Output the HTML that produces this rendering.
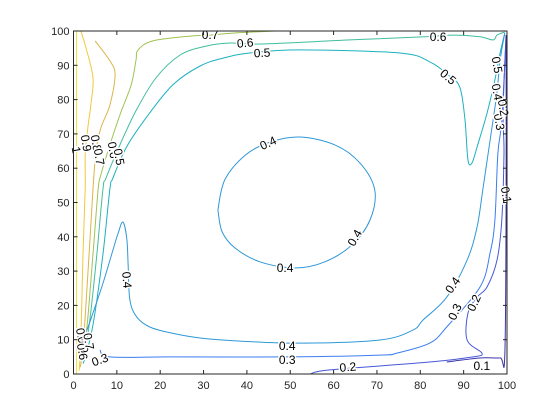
<!DOCTYPE html>
<html><head><meta charset="utf-8"><style>
body{margin:0;background:#fff}
svg{display:block;font-family:"Liberation Sans",sans-serif}
</style></head><body>
<svg id="chart" width="560" height="420" viewBox="0 0 560 420">
<rect x="0" y="0" width="560" height="420" fill="#fff"/>
<g id="lines"></g>
<g id="labels"></g>
<g id="axes"></g>
</svg>
<script>
const levels = [1.0, 0.9, 0.8, 0.7, 0.6, 0.5, 0.4, 0.4, 0.4, 0.3, 0.2, 0.1];
const lineColors = ['#f2e04a','#f1c83b','#dcb44a','#9fc253','#41bd9e','#1cb1bf','#2f98d8','#2f98d8','#2f98d8','#3b7cf0','#4658d8','#3c33aa'];
const contours = [
 [[0.7,100],[0.7,0]],
 [[1.7,100],[2.9,95],[4.5,86.3],[4.0,78.4],[3.3,71.7],[2.7,63.8],[2.7,54],[2.2,35],[1.8,15],[1.5,5],[1.3,1]],
 [[5.0,97.1],[8.4,91.3],[9.6,87.2],[8.4,78.4],[6.3,71.7],[5.2,65],[4.5,54],[3.6,35],[2.6,15],[2,6],[1.6,2]],
 [[46.5,100],[36.8,99.4],[31.5,98.8],[26.9,98.5],[18.3,97.1],[14.9,94.5],[14.4,91.3],[13.3,84.3],[10.7,75.5],[8.4,66.8],[6.3,58],[5.7,54],[4.5,35],[3.2,15],[2.3,6]],
 [[99.5,99.7],[97.7,98.8],[96.8,97.4],[93.8,98.3],[87.5,98.8],[81.1,98.3],[63.8,97.4],[43,96.2],[36.1,96.5],[30.6,95.6],[24.6,93],[19,86.3],[14.4,76.7],[10.7,66.8],[7.5,57.1],[6.8,54],[5.4,35],[3.7,15],[2.6,6]],
 [[99.5,99.4],[98.4,93.6],[97.2,85.7],[95.4,76.1],[93.1,66.2],[91.9,61.5],[91.0,62.4],[90.3,74.1],[89.1,83.7],[86.4,87.2],[82.2,91.0],[75.3,93.6],[52.3,94.5],[40.7,93.6],[34.5,92.1],[29.2,89.8],[22.9,84.3],[16.7,74.6],[12.1,65.9],[9.1,57.1],[8.4,54],[6.8,35],[4.6,15],[3,6],[2.2,3]],
 [[2.0,9.9],[3.1,12.8],[4.5,17.8],[6.8,26.5],[8.9,35.3],[10.3,41.1],[11.4,44.3],[12.3,39.4],[12.6,32.1],[13.0,21.6],[14.6,16.6],[17.6,13.7],[22.3,12.0],[29.2,10.5],[38.4,9.6],[52.3,9.0],[70.7,9.9],[78.3,12.8],[80.6,15.7],[86.1,22.4],[90.8,33.2],[93.1,42.9],[94.5,54.5],[96.8,74.1],[97.7,82.2],[98.4,91.5],[99.5,99.4]],
 [[33.3,47.8],[34.9,56.6],[39.6,63.8],[45.3,67.6],[52.2,69.1],[60.3,66.8],[66.1,61.5],[69.5,53.6],[68.4,44.9],[64.2,37.6],[58.0,32.7],[51.1,30.9],[43.0,32.7],[37.3,36.7],[34.3,41.4],[33.3,47.8]],
 [[2.5,9],[2.2,6]],
 [[6.1,7.0],[8.4,5.0],[22.3,5.0],[49.3,5.0],[70.7,5.5],[74.6,6.1],[82.2,9.0],[86.1,13.7],[93.8,25.4],[96.1,35.3],[97.2,44.9],[97.9,64.4],[98.8,74.1],[99.8,98.8]],
 [[54.6,0],[59.2,1.2],[82.2,3.5],[92.2,5.0],[94.2,6.1],[90.8,9.9],[91.0,17.8],[93.1,22.4],[95.4,25.4],[97.7,33.2],[98.8,44.9],[99.3,64.4],[99.1,77.0],[99.8,98.8]],
 [[86.1,3.5],[89.8,4.1],[94.2,4.7],[98.4,4.7],[99.5,5.5],[99.8,50.7],[99.8,98.8]]
];
const labelTexts = ['0.7','0.6','0.5','0.6','0.5','0.5','0.4','0.3','0.2','0.1','0.4','0.4','0.4','0.4','0.4','0.3','0.2','0.4','0.3','0.2','0.1','0.3','1','0.9','0.8','0.7','0.6','0.5','0.8','0.9','0.6','0.7'];
const labelPos = [[31.5,98.8],[39.6,96.5],[43.5,93.6],[84.1,98.3],[86.4,86.6],[97.7,90.1],[97.7,82.2],[98.2,73.5],[99.1,77.6],[99.8,52.2],[44.9,67.3],[64.9,39.7],[48.8,30.9],[12.3,27.4],[87.5,25.9],[88.0,18.1],[92.4,20.7],[49.3,8.2],[49.3,4.1],[63.3,2.0],[94.2,2.3],[6.1,4.1],[0.6,65.3],[2.9,67.3],[5.2,67.3],[5.9,63.3],[9.1,65.3],[10.5,63.3],[1.8,11],[2.2,8.5],[2.0,6.5],[3.5,9.5]];
const labelRot = [0,-5,-3,0,40,80,80,80,80,80,-25,-60,0,85,-55,-65,-65,0,0,-5,0,-20,80,80,80,80,80,80,80,80,80,80];
const xTicks = [0,10,20,30,40,50,60,70,80,90,100];
const yTicks = [0,10,20,30,40,50,60,70,80,90,100];

const L=73.5,R=507,T=31,B=374;
const sx=v=>L+(R-L)*v/100, sy=v=>B-(B-T)*v/100;
const NS='http://www.w3.org/2000/svg';
function mk(tag,attrs,parent){const e=document.createElementNS(NS,tag);for(const k in attrs)e.setAttribute(k,attrs[k]);parent.appendChild(e);return e;}
function smooth(pts){
 if(pts.length<3) return 'M'+pts.map(p=>p[0].toFixed(1)+','+p[1].toFixed(1)).join(' L');
 let d='M'+pts[0][0].toFixed(1)+','+pts[0][1].toFixed(1);
 for(let i=0;i<pts.length-1;i++){
  const p0=pts[i-1]||pts[i],p1=pts[i],p2=pts[i+1],p3=pts[i+2]||p2;
  const c1=[p1[0]+(p2[0]-p0[0])/6,p1[1]+(p2[1]-p0[1])/6];
  const c2=[p2[0]-(p3[0]-p1[0])/6,p2[1]-(p3[1]-p1[1])/6];
  d+=' C'+c1[0].toFixed(1)+','+c1[1].toFixed(1)+' '+c2[0].toFixed(1)+','+c2[1].toFixed(1)+' '+p2[0].toFixed(1)+','+p2[1].toFixed(1);
 }
 return d;
}
const gl=document.getElementById('lines'),glab=document.getElementById('labels'),ga=document.getElementById('axes');
contours.forEach((c,i)=>{
 const p=mk('path',{d:smooth(c.map(q=>[sx(q[0]),sy(q[1])])),fill:'none',stroke:lineColors[i],'stroke-width':1},gl);
 
 
});
labelTexts.forEach((t,i)=>{
 const x=sx(labelPos[i][0]),y=sy(labelPos[i][1]);
 const e=mk('text',{x:x,y:y+4,'text-anchor':'middle','font-size':12,fill:'#000',stroke:'#fff','stroke-width':3,'paint-order':'stroke',transform:'rotate('+labelRot[i]+' '+x+' '+y+')'},glab);
 e.textContent=t;
 
 
});
const box=mk('rect',{x:L,y:T,width:R-L,height:B-T,fill:'none',stroke:'#262626','stroke-width':1},ga);


xTicks.forEach(v=>{
 const x=sx(v);
 mk('line',{x1:x,y1:B,x2:x,y2:B-4,stroke:'#262626'},ga);
 mk('line',{x1:x,y1:T,x2:x,y2:T+4,stroke:'#262626'},ga);
 const t=mk('text',{x:x,y:B+15,'text-anchor':'middle','font-size':11,fill:'#262626'},ga);
 t.textContent=v;
 
 
});
yTicks.forEach(v=>{
 const y=sy(v);
 mk('line',{x1:L,y1:y,x2:L+4,y2:y,stroke:'#262626'},ga);
 mk('line',{x1:R,y1:y,x2:R-4,y2:y,stroke:'#262626'},ga);
 const t=mk('text',{x:L-4,y:y+4,'text-anchor':'end','font-size':11,fill:'#262626'},ga);
 t.textContent=v;
 
 
});
</script>
</body></html>
